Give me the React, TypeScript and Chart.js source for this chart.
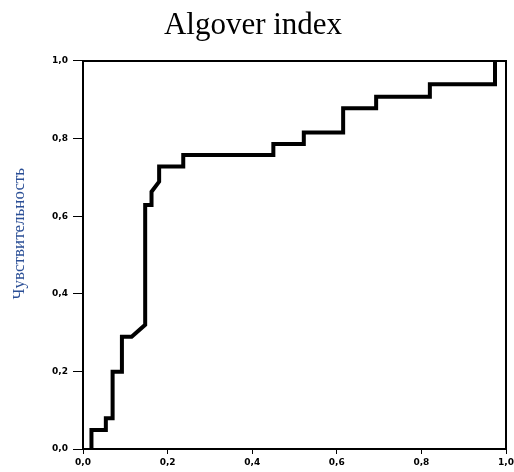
import React, { useEffect, useRef } from "react";
import { Chart, registerables } from "chart.js";

Chart.register(...registerables);

const chartTitle = "Algover index";
const yAxisTitle = "Чувствительность";
// 1 - specificity (x) and sensitivity (y) of the ROC curve
const fpr = [0.02, 0.02, 0.054, 0.054, 0.07, 0.07, 0.092, 0.092, 0.115, 0.147, 0.147, 0.162, 0.162, 0.18, 0.18, 0.237, 0.237, 0.45, 0.45, 0.522, 0.522, 0.615, 0.615, 0.693, 0.693, 0.82, 0.82, 0.974, 0.974];
const tpr = [0.0, 0.049, 0.049, 0.079, 0.079, 0.199, 0.199, 0.289, 0.289, 0.32, 0.629, 0.629, 0.663, 0.689, 0.728, 0.728, 0.758, 0.758, 0.786, 0.786, 0.816, 0.816, 0.878, 0.878, 0.908, 0.908, 0.94, 0.94, 1.0];
const tickValues = [0, 0.2, 0.4, 0.6, 0.8, 1.0];

const fmt = (v: number) => Number(v).toFixed(1).replace(".", ",");

const framePlugin = {
  id: "frame",
  beforeDatasetsDraw(chart: any) {
    const { ctx, chartArea } = chart;
    ctx.save();
    ctx.strokeStyle = "#000";
    ctx.lineWidth = 2;
    ctx.beginPath();
    ctx.moveTo(chartArea.left, chartArea.top);
    ctx.lineTo(chartArea.right, chartArea.top);
    ctx.lineTo(chartArea.right, chartArea.bottom);
    ctx.stroke();
    ctx.restore();
  },
  afterDraw(chart: any) {
    const { ctx, chartArea } = chart;
    ctx.save();
    ctx.fillStyle = "#2b4f96";
    ctx.font = "17px 'Liberation Serif', serif";
    ctx.textAlign = "center";
    ctx.textBaseline = "middle";
    ctx.translate(20, chartArea.top + chartArea.height * 0.445);
    ctx.rotate(-Math.PI / 2);
    ctx.fillText(yAxisTitle, 0, 0);
    ctx.restore();
  },
};

export default function App() {
  const ref = useRef<HTMLCanvasElement | null>(null);
  useEffect(() => {
    if (!ref.current) return;
    const data = fpr.map((x, i) => ({ x, y: tpr[i] }));
    const tickFont = { family: "'DejaVu Sans', sans-serif", size: 9, weight: "bold" as const };
    const chart = new Chart(ref.current, {
      type: "scatter",
      data: {
        datasets: [
          {
            data,
            showLine: true,
            borderColor: "#000",
            borderWidth: 4,
            pointRadius: 0,
            fill: false,
            clip: false as any,
          },
        ],
      },
      options: {
        animation: false,
        responsive: true,
        maintainAspectRatio: false,
        layout: { padding: { left: 0, right: 8, top: 0, bottom: 0 } },
        plugins: {
          legend: { display: false },
          tooltip: { enabled: false },
          title: {
            display: true,
            text: chartTitle,
            color: "#000",
            font: { family: "'Liberation Serif', serif", size: 31, weight: "normal" as const, lineHeight: 1.2 },
            padding: { top: 6.9, bottom: 16.9 },
          },
        },
        scales: {
          x: {
            type: "linear",
            min: 0,
            max: 1,
            afterFit: (s: any) => { s.height = 23; s.paddingLeft = 0; s.paddingRight = 0; },
            afterBuildTicks: (s: any) => { s.ticks = tickValues.map((v) => ({ value: v })); },
            ticks: { color: "#000", font: tickFont, padding: 3, maxRotation: 0, callback: (v: any) => fmt(v) },
            grid: { drawOnChartArea: false, color: "#000", tickLength: 5, tickWidth: 1 },
            border: { color: "#000", width: 2 },
          },
          y: {
            type: "linear",
            min: 0,
            max: 1,
            afterFit: (s: any) => { s.width = 83; s.paddingTop = 0; s.paddingBottom = 0; },
            afterBuildTicks: (s: any) => { s.ticks = tickValues.map((v) => ({ value: v })); },
            ticks: { color: "#000", font: tickFont, padding: 5, callback: (v: any) => fmt(v) },
            grid: { drawOnChartArea: false, color: "#000", tickLength: 10, tickWidth: 1 },
            border: { color: "#000", width: 2 },
          },
        },
      },
      plugins: [framePlugin],
    });
    return () => chart.destroy();
  }, []);
  return (
    <div style={{ position: "fixed", left: 0, top: 0, width: 514, height: 472, background: "#fff" }}>
      <canvas ref={ref} />
    </div>
  );
}
